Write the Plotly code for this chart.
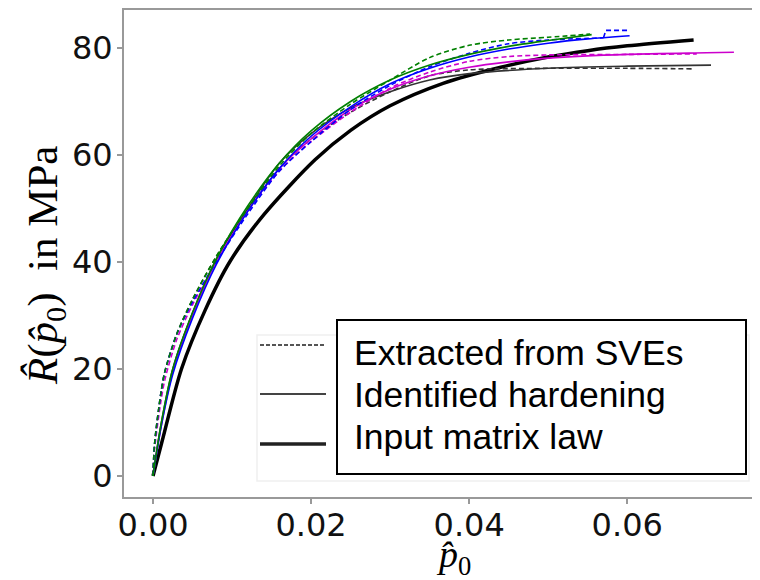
import plotly.graph_objects as go

# ---------------- data ----------------
# "Extracted from SVEs" (dashed) and "Identified hardening" (thin solid) per SVE colour
blk_dash_p = [0, 0.0002, 0.001, 0.0015, 0.003, 0.005, 0.008, 0.012, 0.016, 0.02, 0.025, 0.03, 0.035, 0.04, 0.05, 0.06, 0.0684]
blk_dash_r = [0, 6, 15.5, 19.5, 26.5, 33, 41, 50, 57.5, 63, 68, 71.8, 74.8, 75.9, 76.2, 76.2, 76.1]
blk_sol_p = [0, 0.001, 0.0025, 0.005, 0.008, 0.012, 0.016, 0.02, 0.025, 0.03, 0.035, 0.04, 0.05, 0.06, 0.0706]
blk_sol_r = [0, 9.5, 20, 30.5, 40.5, 50, 58.5, 64, 68.8, 71.8, 74, 75.2, 76.2, 76.6, 76.8]

grn_dash_p = [0, 0.0002, 0.001, 0.0015, 0.003, 0.005, 0.008, 0.012, 0.016, 0.02, 0.025, 0.03, 0.035, 0.04, 0.045, 0.05, 0.0553]
grn_dash_r = [0, 6, 15.5, 19.5, 26.5, 33, 41, 50, 58, 64, 69.5, 74, 78.2, 80.5, 81.5, 82, 82.6]
grn_sol_p = [0, 0.001, 0.0025, 0.005, 0.008, 0.012, 0.016, 0.02, 0.025, 0.03, 0.035, 0.04, 0.045, 0.05, 0.0555]
grn_sol_r = [0, 9.5, 20, 30.5, 40.5, 50.5, 58.5, 64.5, 70, 74, 76.8, 78.8, 80.3, 81.4, 82.5]

blu_dash_p = [0, 0.0002, 0.001, 0.0015, 0.003, 0.005, 0.008, 0.012, 0.016, 0.02, 0.025, 0.03, 0.035, 0.04, 0.045, 0.05, 0.057]
blu_dash_r = [0, 6, 15.5, 19.5, 26.5, 32.5, 40, 49, 57, 62.5, 68.5, 73, 76.5, 79, 80.8, 81.5, 81.9]
blu_dash_tail_p = [0.057, 0.0573, 0.0603]
blu_dash_tail_r = [81.9, 83.3, 83.3]
blu_sol_p = [0, 0.001, 0.0025, 0.005, 0.008, 0.012, 0.016, 0.02, 0.025, 0.03, 0.035, 0.04, 0.045, 0.05, 0.055, 0.0603]
blu_sol_r = [0, 9, 19, 29.5, 39.5, 49.5, 57.5, 63.5, 69, 73.3, 76.2, 78.3, 79.8, 80.9, 81.7, 82.3]

mag_dash_p = [0, 0.0002, 0.001, 0.0015, 0.003, 0.005, 0.008, 0.012, 0.016, 0.02, 0.025, 0.03, 0.035, 0.04, 0.045, 0.05, 0.06, 0.0688]
mag_dash_r = [0, 5, 14, 18, 25.5, 32, 40, 49.5, 57, 62.5, 68, 72.5, 75.5, 77.5, 78.4, 78.7, 78.8, 78.9]
mag_sol_p = [0, 0.001, 0.0025, 0.005, 0.008, 0.012, 0.016, 0.02, 0.025, 0.03, 0.035, 0.04, 0.045, 0.05, 0.06, 0.07, 0.0735]
mag_sol_r = [0, 9, 19.5, 30, 40, 49.5, 57.5, 63, 68.5, 72.3, 74.8, 76.4, 77.4, 78.1, 78.8, 79.1, 79.2]

# "Input matrix law" (thick black)
inp_p = [0, 0.0011, 0.0036, 0.0066, 0.0097, 0.014, 0.0205, 0.025, 0.03, 0.0367, 0.044, 0.05, 0.055, 0.06, 0.0684]
inp_r = [0, 6.2, 20, 31, 40, 48.8, 59.1, 64.6, 69.2, 73.4, 76.4, 78.3, 79.5, 80.4, 81.5]

x_ticks = [0.0, 0.02, 0.04, 0.06]
x_tick_labels = ["0.00", "0.02", "0.04", "0.06"]
y_ticks = [0, 20, 40, 60, 80]
legend_labels = ["Extracted from SVEs", "Identified hardening", "Input matrix law"]

# ---------------- figure ----------------
OFF = 8                      # default body margin of the page
W, H = 760, 580
L, T, Bm = 124, 10, 83       # in page pixels
PW, PH = W - L, H - T - Bm

def px(x):
    return (x - L) / PW

def py(y):
    return (H - Bm - y) / PH

GREEN = "#008000"
BLUE = "#0000ff"
MAG = "#cc00cc"
DASH = "5px,3px"

fig = go.Figure()

def add(p, r, color, width, dash=None, shape="spline"):
    fig.add_trace(go.Scatter(
        x=p, y=r, mode="lines",
        line=dict(color=color, width=width, dash=dash, shape=shape, smoothing=0.8),
        showlegend=False, hoverinfo="skip"))

add(inp_p, inp_r, "#000000", 3.5)
add(blk_sol_p, blk_sol_r, "#333333", 1.6)
add(blk_dash_p, blk_dash_r, "#333333", 1.6, DASH)
add(mag_sol_p, mag_sol_r, MAG, 1.6)
add(mag_dash_p, mag_dash_r, MAG, 1.6, DASH)
add(blu_sol_p, blu_sol_r, BLUE, 1.6)
add(blu_dash_p, blu_dash_r, BLUE, 1.6, DASH)
add(blu_dash_tail_p, blu_dash_tail_r, BLUE, 1.6, DASH, "linear")
add(grn_sol_p, grn_sol_r, GREEN, 1.6)
add(grn_dash_p, grn_dash_r, GREEN, 1.6, DASH)

shapes = []
# faint legend frame
shapes.append(dict(type="rect", xref="paper", yref="paper",
                   x0=px(257), x1=px(749), y0=py(481), y1=py(335),
                   line=dict(color="#f0f0f0", width=1.5), fillcolor="rgba(255,255,255,0.8)", layer="above"))
# legend line samples
shapes.append(dict(type="line", xref="paper", yref="paper", x0=px(260), x1=px(326), y0=py(345), y1=py(345),
                   line=dict(color="#555555", width=2, dash="4px,2px"), layer="above"))
shapes.append(dict(type="line", xref="paper", yref="paper", x0=px(260), x1=px(326), y0=py(394), y1=py(394),
                   line=dict(color="#444444", width=2), layer="above"))
shapes.append(dict(type="line", xref="paper", yref="paper", x0=px(260), x1=px(326), y0=py(444), y1=py(444),
                   line=dict(color="#222222", width=3.5), layer="above"))
# black text box
shapes.append(dict(type="rect", xref="paper", yref="paper",
                   x0=px(337), x1=px(746), y0=py(474), y1=py(320),
                   line=dict(color="#000000", width=2), fillcolor="white", layer="above"))

annotations = []
for lab, yc in zip(legend_labels, [353, 395, 437]):
    annotations.append(dict(text=lab, xref="paper", yref="paper", x=px(352), y=py(yc),
                            xanchor="left", yanchor="middle", showarrow=False,
                            font=dict(family="Liberation Sans, Arial", size=35.5, color="#000000")))
# axis titles
annotations.append(dict(text="<i>R\u0302</i>(<i>p\u0302</i><sub>0</sub>)  in MPa", xref="paper", yref="paper",
                        x=px(46), y=py(266), textangle=-90, showarrow=False,
                        xanchor="center", yanchor="middle",
                        font=dict(family="Liberation Serif, Times New Roman, serif", size=43, color="#000000")))
annotations.append(dict(text="<i>p\u0302</i><sub>0</sub>", xref="paper", yref="paper",
                        x=px(453), y=py(557), showarrow=False,
                        xanchor="center", yanchor="middle",
                        font=dict(family="Liberation Serif, Times New Roman, serif", size=38, color="#000000")))

axis_common = dict(showgrid=False, zeroline=False, showline=True, linecolor="#999999", linewidth=2,
                   ticks="outside", ticklen=5, tickwidth=1.5, tickcolor="#999999",
                   tickfont=dict(family="DejaVu Sans", size=32, color="#111111"))

fig.update_layout(
    width=W - OFF, height=H - OFF,
    margin=dict(l=L - OFF, r=0, t=T - OFF, b=Bm, pad=0),
    paper_bgcolor="white", plot_bgcolor="white",
    xaxis=dict(range=[-0.00367, 0.0768], tickvals=x_ticks, ticktext=x_tick_labels, mirror=True,
               ticklabelstandoff=-6, **axis_common),
    yaxis=dict(range=[-3.93, 87.1], tickvals=y_ticks, mirror=False, ticklabelstandoff=-2, **axis_common),
    shapes=shapes, annotations=annotations,
)

fig.write_html("out.html")
